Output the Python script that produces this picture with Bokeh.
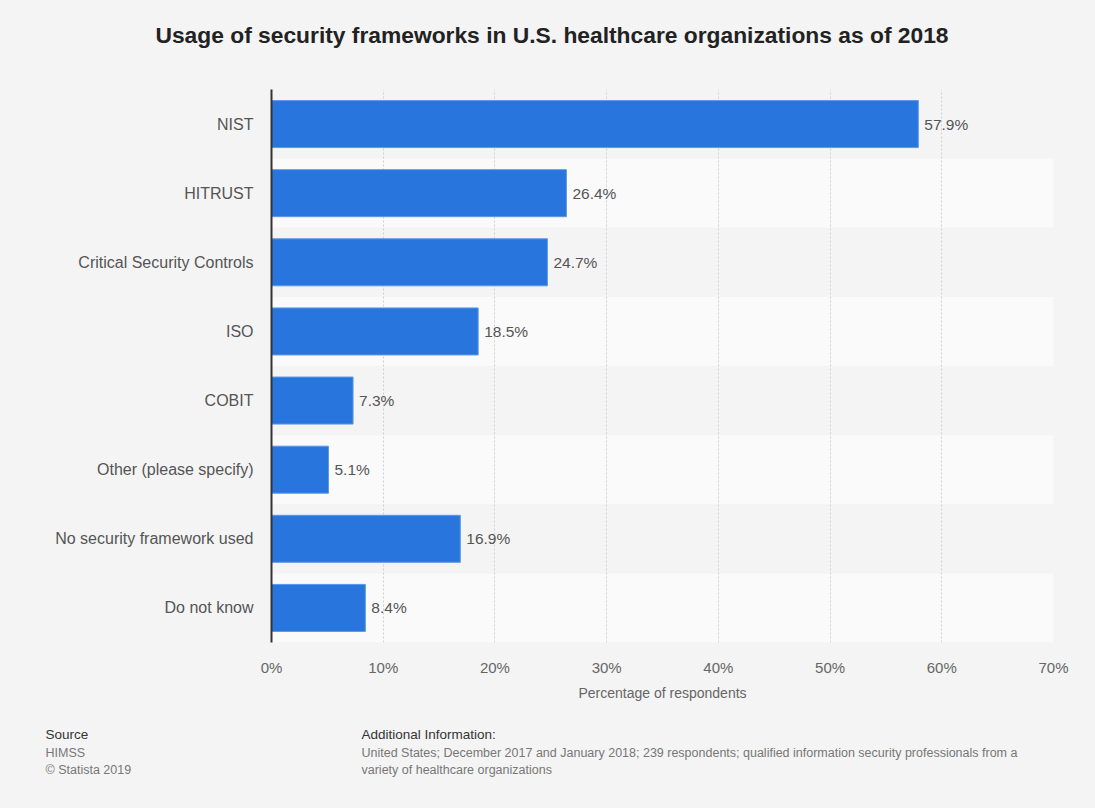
from bokeh.plotting import figure
from bokeh.models import FactorRange, Range1d, NumeralTickFormatter, ColumnDataSource
from bokeh.layouts import column
from bokeh.embed import file_html
from bokeh.resources import INLINE
from bokeh.core.properties import value

categories = ["NIST", "HITRUST", "Critical Security Controls", "ISO", "COBIT",
              "Other (please specify)", "No security framework used", "Do not know"]
values = [57.9, 26.4, 24.7, 18.5, 7.3, 5.1, 16.9, 8.4]
x_ticks = [0, 10, 20, 30, 40, 50, 60, 70]

title_text = "Usage of security frameworks in U.S. healthcare organizations as of 2018"
x_label = "Percentage of respondents"
source_lines = ["Source", "HIMSS", "\u00a9 Statista 2019"]
info_lines = ["Additional Information:",
              "United States; December 2017 and January 2018; 239 respondents; qualified information security professionals from a",
              "variety of healthcare organizations"]

FONT = "Liberation Sans"
BG = "#f4f4f4"
W = 1095
HEAD_H = 89
MAIN_H = 621
FOOT_H = 98


def text_panel(height):
    fig = figure(width=W, height=height, output_backend="svg", toolbar_location=None,
                 x_range=Range1d(0, W), y_range=Range1d(height, 0),
                 min_border=0, min_border_left=0, min_border_right=0,
                 min_border_top=0, min_border_bottom=0,
                 background_fill_color=BG, border_fill_color=BG,
                 outline_line_color=None)
    fig.frame_align = False
    fig.axis.visible = False
    fig.grid.visible = False
    return fig


# header with title
h = text_panel(HEAD_H)
h.text(x=[W / 2 + 4], y=[34], text=[title_text], text_font=value(FONT),
       text_font_size="22.8px", text_font_style="bold", text_color="#222222",
       text_align="center", text_baseline="middle")

labels = [f"{v}%" for v in values]
band_colors = [BG if i % 2 == 0 else "#fafafa" for i in range(len(categories))]
src = ColumnDataSource(dict(cat=categories, val=values, lab=labels,
                            band=[x_ticks[-1]] * len(categories), bc=band_colors))

p = figure(width=W, height=MAIN_H, output_backend="svg", toolbar_location=None,
           y_range=FactorRange(factors=categories[::-1], range_padding=0),
           x_range=Range1d(0, x_ticks[-1]),
           min_border_left=271, min_border_right=42, min_border_top=0, min_border_bottom=68,
           background_fill_color=BG, border_fill_color=BG, outline_line_color=None)
p.frame_align = False

# alternating row bands
p.hbar(y="cat", left=0, right="band", height=1.0, source=src, fill_color="bc",
       line_color=None, level="image")

p.hbar(y="cat", left=0, right="val", height=0.68, source=src, fill_color="#2876dd",
       line_color="#5d98e6", line_width=1)

p.text(x="val", y="cat", text="lab", source=src, x_offset=6,
       text_font=value(FONT), text_font_size="15.5px", text_color="#555555",
       text_baseline="middle", text_align="left")

p.xaxis.ticker = x_ticks
p.xaxis.formatter = NumeralTickFormatter(format="0")
p.xaxis.major_label_overrides = {t: f"{t}%" for t in x_ticks}
p.xaxis.axis_line_color = None
p.xaxis.major_tick_line_color = None
p.xaxis.minor_tick_line_color = None
p.xaxis.major_label_standoff = 10
p.xaxis.major_label_text_font = FONT
p.xaxis.major_label_text_font_size = "15px"
p.xaxis.major_label_text_color = "#666666"
p.xaxis.axis_label = x_label
p.xaxis.axis_label_text_font = FONT
p.xaxis.axis_label_text_font_size = "14px"
p.xaxis.axis_label_text_font_style = "normal"
p.xaxis.axis_label_text_color = "#666666"
p.xaxis.axis_label_standoff = 6

p.yaxis.axis_line_color = "#333333"
p.yaxis.axis_line_width = 2
p.yaxis.major_tick_line_color = None
p.yaxis.minor_tick_line_color = None
p.yaxis.major_label_standoff = 12
p.yaxis.major_label_text_font = FONT
p.yaxis.major_label_text_font_size = "16px"
p.yaxis.major_label_text_color = "#555555"

p.ygrid.grid_line_color = None
p.xgrid.grid_line_color = "#d0d0d0"
p.xgrid.grid_line_dash = "2 2"
p.xgrid.grid_line_width = 1
p.xgrid.ticker = x_ticks

# footer
f = text_panel(FOOT_H)
ys = [24, 42, 59]
f.text(x=[45] * 3, y=ys, text=source_lines, text_font=value(FONT),
       text_font_size=["13.5px", "12.5px", "12.5px"],
       text_color=["#333333", "#777777", "#777777"], text_baseline="middle")
f.text(x=[361] * 3, y=ys, text=info_lines, text_font=value(FONT),
       text_font_size=["13.5px", "12.5px", "12.5px"],
       text_color=["#333333", "#777777", "#777777"], text_baseline="middle")

layout = column(h, p, f, spacing=0, styles={"background-color": BG})
open("out.html", "w").write(file_html(layout, INLINE))
